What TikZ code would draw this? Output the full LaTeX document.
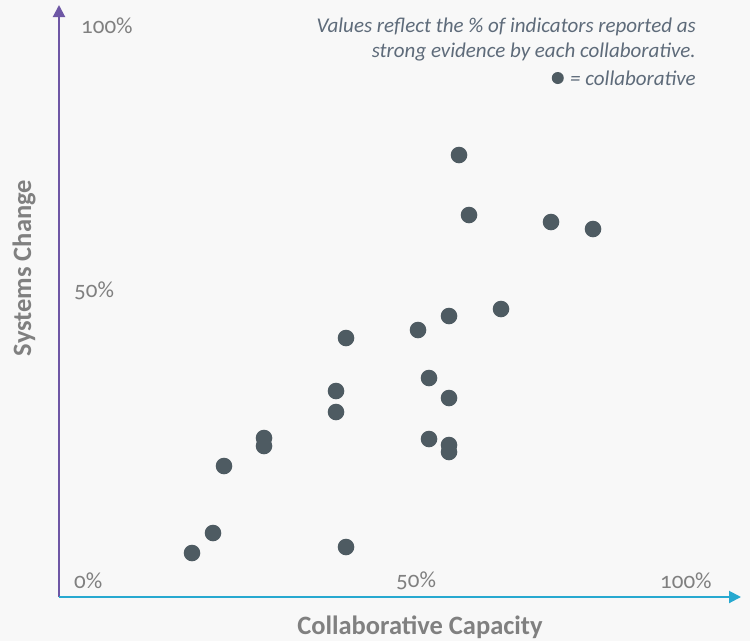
\documentclass[tikz,border=0pt]{standalone}
\usepackage{fontspec}
\setmainfont{Carlito}[Numbers=OldStyle]
\usetikzlibrary{arrows.meta,positioning}
\definecolor{bgcol}{HTML}{F8F8F8}
\definecolor{dotcol}{HTML}{4E5B62}
\definecolor{ycol}{HTML}{6E57A5}
\definecolor{xcol}{HTML}{27A9D0}
\definecolor{labcol}{HTML}{808080}
\definecolor{notecol}{HTML}{5E6B7A}
\begin{document}
\begin{tikzpicture}[x=1pt,y=-1pt,
        collab/.style={circle,fill=dotcol,inner sep=0pt,minimum size=16.6pt},
        ticklab/.style={text=labcol,font=\fontsize{23}{26}\selectfont,inner sep=0pt},
        axistitle/.style={text=labcol,font=\bfseries\fontsize{26.5}{30}\selectfont,inner sep=0pt},
        note/.style={text=notecol,font=\itshape\fontsize{21}{25}\selectfont,inner sep=0pt}]
        \fill[bgcol](0,0)rectangle(750,641);
        \coordinate(o)at(59,597);
        \coordinate(ytop)at(59,5);
        \coordinate(xend)at(741,597);
        \draw[-{Triangle[width=12pt,length=12pt]},line width=2pt,ycol](o)--(ytop);
        \draw[-{Triangle[width=12pt,length=12pt]},line width=2pt,xcol](o)--(xend);

        \node[ticklab,anchor=west](y100)at(81,26){100\%};
        \node[ticklab,anchor=west](y50)at(74,291){50\%};
        \node[ticklab,anchor=west](x0)at(74,581){0\%};
        \node[ticklab,anchor=west](x50)at(396,581){50\%};
        \node[ticklab,anchor=west](x100)at(660,581){100\%};
        \node[axistitle](xtitle)at(420,627){Collaborative Capacity};
        \node[axistitle,rotate=90](ytitle)at(24,268){Systems Change};

        \node[note,align=right,anchor=east](notetext)at(696,40){Values reflect the \% of indicators reported as\\strong evidence by each collaborative.};
        \node[note,anchor=east](keytext)at(696,78){= collaborative};
        \node[collab,minimum size=12pt,left=6pt of keytext](keydot){};

        \foreach \x/\y [count=\i] in {459/155,469/215,551/222,593/229,501/309,449/316,418/330,
                346/338,336/391,429/378,449/398,336/412,264/438,264/446,429/439,449/445,449/452,
                224/466,213/533,192/553,346/547}
        \node[collab](c\i)at(\x,\y){};
    \end{tikzpicture}
\end{document}
